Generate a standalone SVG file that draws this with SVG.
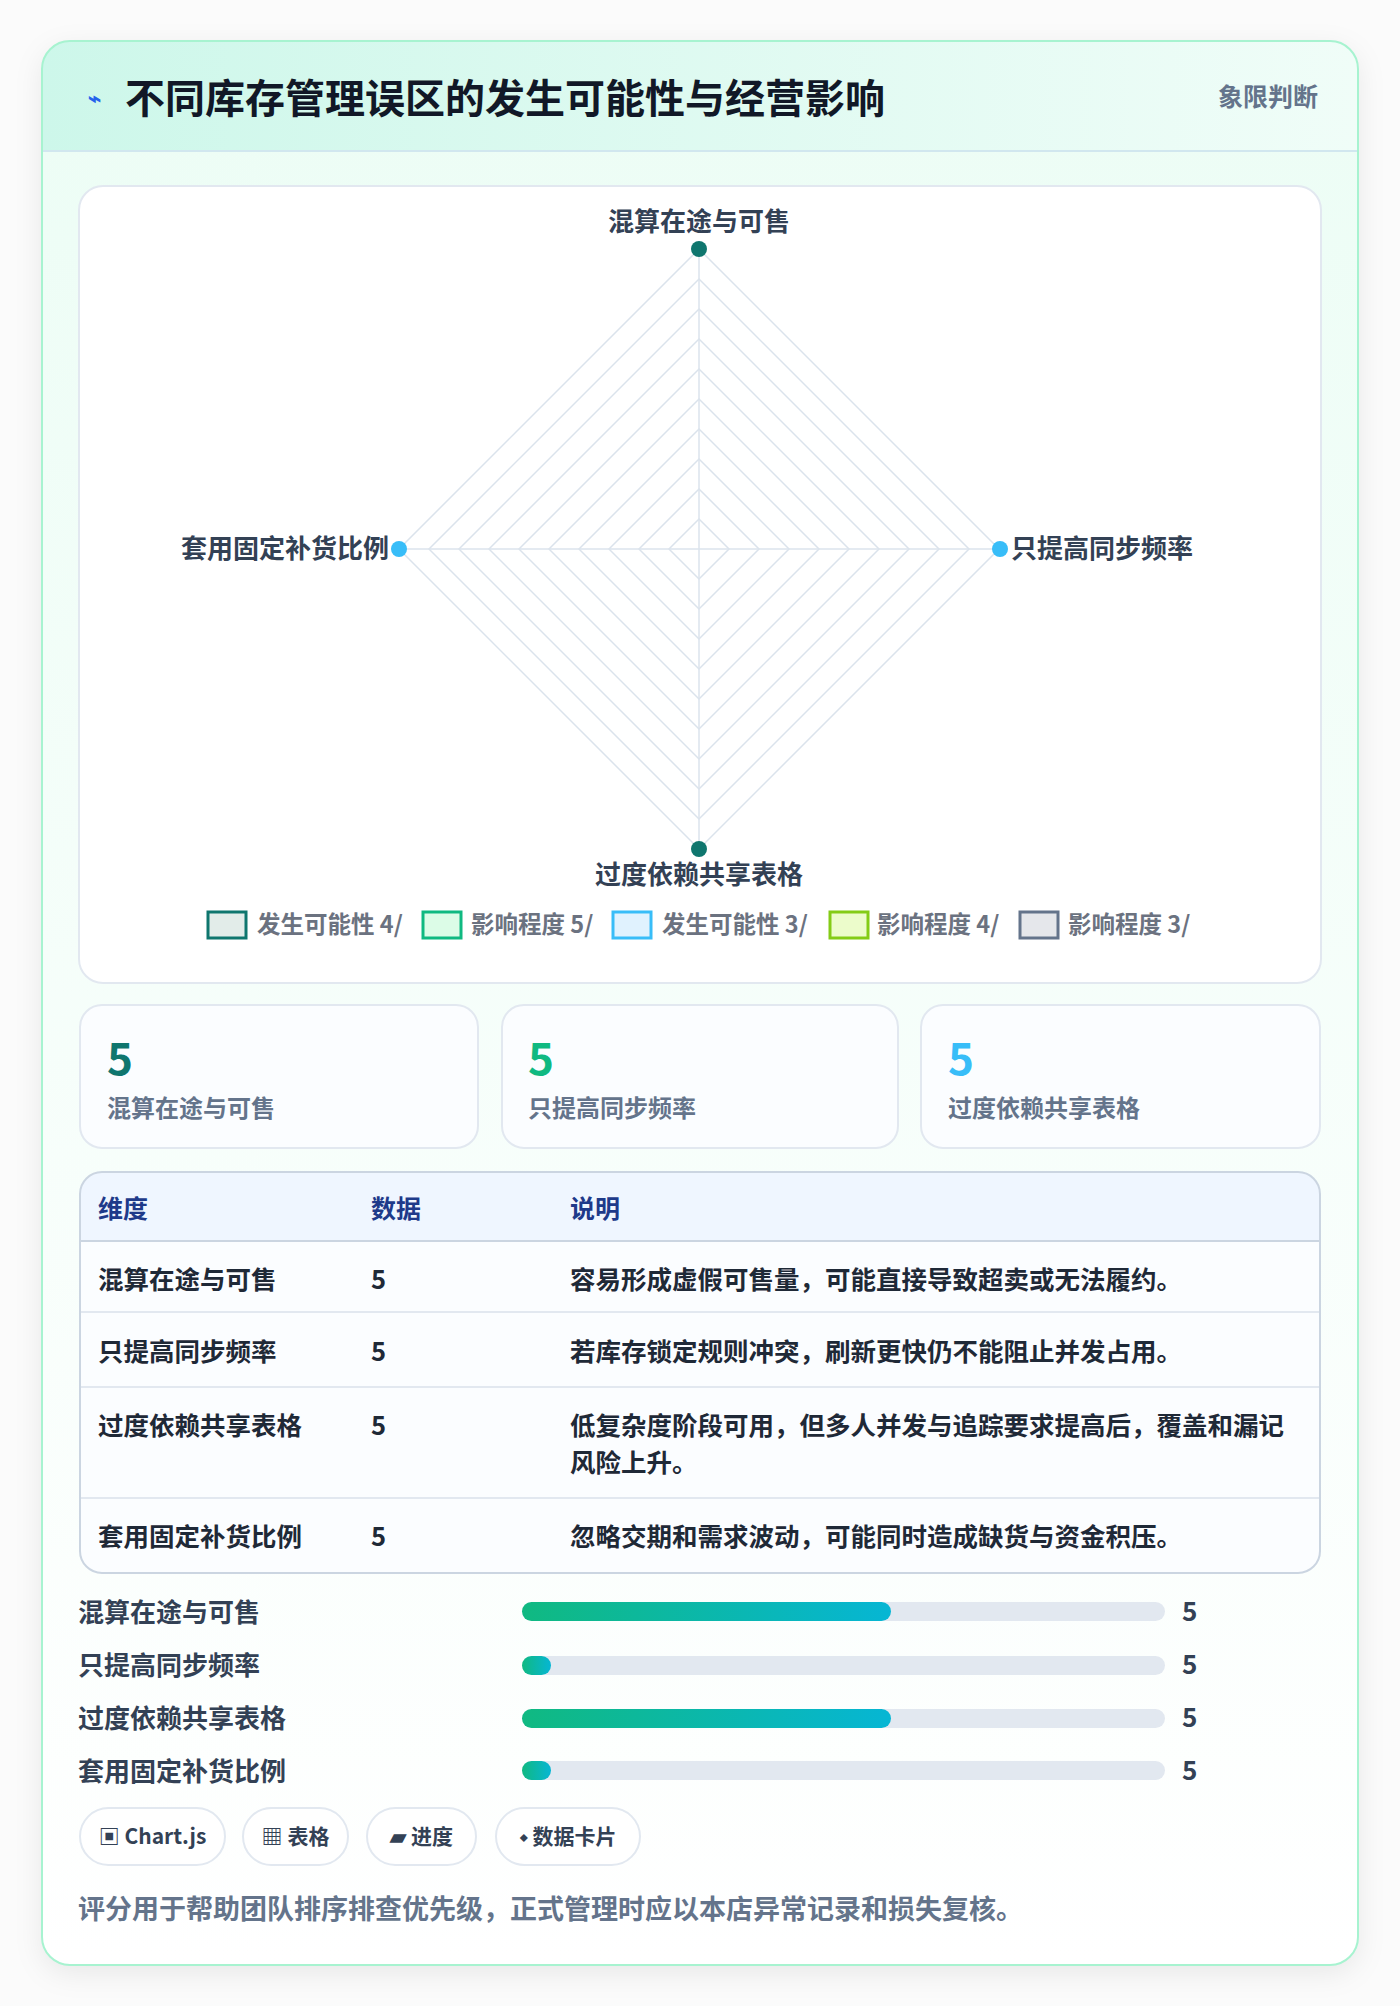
<svg xmlns="http://www.w3.org/2000/svg" width="1400" height="2006" viewBox="0 0 1400 2006">
<defs>
<linearGradient id="hdr" x1="0" y1="0" x2="1" y2="0"><stop offset="0" stop-color="#cdf7ea"/><stop offset="1" stop-color="#f0fdf8"/></linearGradient>
<linearGradient id="body" x1="0" y1="0" x2="0" y2="1"><stop offset="0" stop-color="#ecfdf5"/><stop offset="1" stop-color="#ffffff"/></linearGradient>
<linearGradient id="bar" x1="0" y1="0" x2="1" y2="0"><stop offset="0" stop-color="#10b981"/><stop offset="1" stop-color="#06b6d4"/></linearGradient>
<filter id="sh" x="-10%" y="-10%" width="120%" height="120%"><feDropShadow dx="0" dy="8" stdDeviation="14" flood-color="#0f172a" flood-opacity="0.08"/></filter>
<clipPath id="cc"><rect x="42" y="41" width="1316" height="1924" rx="28"/></clipPath>
<clipPath id="tc"><rect x="80" y="1172" width="1240" height="401" rx="22"/></clipPath>
</defs>
<style>
text{font-family:"Noto Sans CJK SC","Liberation Sans",sans-serif;font-weight:700}
.ax{font-size:26px;fill:#334155}
.lg{font-size:23.5px;fill:#6b7280}
.sl{font-size:24px;fill:#64748b}
.th{font-size:25px;fill:#1e3a8a}
.td{font-size:25.5px;fill:#1f2937}
.bl{font-size:26px;fill:#334155}
.ch{font-size:21px;fill:#334155}
.ring{fill:none;stroke:#dbe3ec;stroke-width:1.5}
</style>
<rect width="1400" height="2006" fill="#fbfbfb"/>
<g id="card">
<rect x="42" y="41" width="1316" height="1924" rx="28" fill="url(#body)" filter="url(#sh)"/>
<rect x="42" y="41" width="1316" height="110" fill="url(#hdr)" clip-path="url(#cc)"/>
<line x1="42" y1="151" x2="1358" y2="151" stroke="#d1e7ef" stroke-width="2"/>
<rect x="42" y="41" width="1316" height="1924" rx="28" fill="none" stroke="#a7f3d0" stroke-width="2"/>
<text x="88" y="106" font-size="22" fill="#2563eb">⌁</text>
<text x="125" y="113" font-size="40" fill="#111827">不同库存管理误区的发生可能性与经营影响</text>
<text x="1318" y="106" font-size="25" fill="#64748b" text-anchor="end">象限判断</text>
</g>
<g id="chart">
<rect x="79" y="186" width="1242" height="797" rx="24" fill="#ffffff" stroke="#e2e8f0" stroke-width="2"/>
<g>
<polygon class="ring" points="699,519 729,549 699,579 669,549"/>
<polygon class="ring" points="699,489 759,549 699,609 639,549"/>
<polygon class="ring" points="699,459 789,549 699,639 609,549"/>
<polygon class="ring" points="699,429 819,549 699,669 579,549"/>
<polygon class="ring" points="699,399 849,549 699,699 549,549"/>
<polygon class="ring" points="699,369 879,549 699,729 519,549"/>
<polygon class="ring" points="699,339 909,549 699,759 489,549"/>
<polygon class="ring" points="699,309 939,549 699,789 459,549"/>
<polygon class="ring" points="699,279 969,549 699,819 429,549"/>
<polygon class="ring" points="699,249 999,549 699,849 399,549"/>
<line x1="699" y1="249" x2="699" y2="849" stroke="#dbe3ec" stroke-width="1.5"/>
<line x1="399" y1="549" x2="999" y2="549" stroke="#dbe3ec" stroke-width="1.5"/>
</g>
<circle cx="699" cy="249" r="8" fill="#0f766e"/>
<circle cx="699" cy="849" r="8" fill="#0f766e"/>
<circle cx="399" cy="549" r="8" fill="#38bdf8"/>
<circle cx="1000" cy="549" r="8" fill="#38bdf8"/>
<text class="ax" x="699" y="231" text-anchor="middle">混算在途与可售</text>
<text class="ax" x="389" y="558" text-anchor="end">套用固定补货比例</text>
<text class="ax" x="1011" y="558">只提高同步频率</text>
<text class="ax" x="699" y="884" text-anchor="middle">过度依赖共享表格</text>
<rect x="208" y="912" width="38" height="26" fill="#e2ece9" stroke="#0f766e" stroke-width="3"/>
<text class="lg" x="257" y="933">发生可能性 4/</text>
<rect x="423" y="912" width="38" height="26" fill="#dcfce7" stroke="#10b981" stroke-width="3"/>
<text class="lg" x="471" y="933">影响程度 5/</text>
<rect x="613" y="912" width="38" height="26" fill="#e0f2fe" stroke="#38bdf8" stroke-width="3"/>
<text class="lg" x="662" y="933">发生可能性 3/</text>
<rect x="830" y="912" width="38" height="26" fill="#ecfccb" stroke="#84cc16" stroke-width="3"/>
<text class="lg" x="877" y="933">影响程度 4/</text>
<rect x="1020" y="912" width="38" height="26" fill="#e5e7eb" stroke="#64748b" stroke-width="3"/>
<text class="lg" x="1068" y="933">影响程度 3/</text>
</g>
<g id="stats">
<rect x="80" y="1005" width="398" height="143" rx="22" fill="#fbfdff" stroke="#e2e8f0" stroke-width="2"/>
<text x="107" y="1075" font-size="44" font-weight="900" fill="#0f766e">5</text>
<text class="sl" x="107" y="1117">混算在途与可售</text>
<rect x="502" y="1005" width="396" height="143" rx="22" fill="#fbfdff" stroke="#e2e8f0" stroke-width="2"/>
<text x="528" y="1075" font-size="44" font-weight="900" fill="#10b981">5</text>
<text class="sl" x="528" y="1117">只提高同步频率</text>
<rect x="921" y="1005" width="399" height="143" rx="22" fill="#fbfdff" stroke="#e2e8f0" stroke-width="2"/>
<text x="948" y="1075" font-size="44" font-weight="900" fill="#38bdf8">5</text>
<text class="sl" x="948" y="1117">过度依赖共享表格</text>
</g>
<g id="table">
<rect x="80" y="1172" width="1240" height="401" rx="22" fill="#fbfdff"/>
<rect x="80" y="1172" width="1240" height="69" fill="#eff6ff" clip-path="url(#tc)"/>
<line x1="80" y1="1241" x2="1320" y2="1241" stroke="#cbd5e1" stroke-width="2"/>
<line x1="80" y1="1312" x2="1320" y2="1312" stroke="#e2e8f0" stroke-width="2"/>
<line x1="80" y1="1387" x2="1320" y2="1387" stroke="#e2e8f0" stroke-width="2"/>
<line x1="80" y1="1498" x2="1320" y2="1498" stroke="#e2e8f0" stroke-width="2"/>
<rect x="80" y="1172" width="1240" height="401" rx="22" fill="none" stroke="#cbd5e1" stroke-width="2"/>
<text class="th" x="98" y="1218">维度</text><text class="th" x="371" y="1218">数据</text><text class="th" x="570" y="1218">说明</text>
<text class="td" x="98" y="1289">混算在途与可售</text><text class="td" x="371" y="1289" font-size="22">5</text><text class="td" x="570" y="1289">容易形成虚假可售量，可能直接导致超卖或无法履约。</text>
<text class="td" x="98" y="1361">只提高同步频率</text><text class="td" x="371" y="1361" font-size="22">5</text><text class="td" x="570" y="1361">若库存锁定规则冲突，刷新更快仍不能阻止并发占用。</text>
<text class="td" x="98" y="1435">过度依赖共享表格</text><text class="td" x="371" y="1435" font-size="22">5</text><text class="td" x="570" y="1435">低复杂度阶段可用，但多人并发与追踪要求提高后，覆盖和漏记</text>
<text class="td" x="570" y="1472">风险上升。</text>
<text class="td" x="98" y="1546">套用固定补货比例</text><text class="td" x="371" y="1546" font-size="22">5</text><text class="td" x="570" y="1546">忽略交期和需求波动，可能同时造成缺货与资金积压。</text>
</g>
<g id="bars">
<text class="bl" x="78" y="1622">混算在途与可售</text>
<rect x="522" y="1602" width="643" height="19" rx="9.5" fill="#e2e8f0"/><rect x="522" y="1602" width="369" height="19" rx="9.5" fill="url(#bar)"/>
<text class="bl" x="1182" y="1621" font-size="23">5</text>
<text class="bl" x="78" y="1675">只提高同步频率</text>
<rect x="522" y="1656" width="643" height="19" rx="9.5" fill="#e2e8f0"/><rect x="522" y="1656" width="29" height="19" rx="9.5" fill="url(#bar)"/>
<text class="bl" x="1182" y="1674" font-size="23">5</text>
<text class="bl" x="78" y="1728">过度依赖共享表格</text>
<rect x="522" y="1709" width="643" height="19" rx="9.5" fill="#e2e8f0"/><rect x="522" y="1709" width="369" height="19" rx="9.5" fill="url(#bar)"/>
<text class="bl" x="1182" y="1727" font-size="23">5</text>
<text class="bl" x="78" y="1781">套用固定补货比例</text>
<rect x="522" y="1761" width="643" height="19" rx="9.5" fill="#e2e8f0"/><rect x="522" y="1761" width="29" height="19" rx="9.5" fill="url(#bar)"/>
<text class="bl" x="1182" y="1780" font-size="23">5</text>
</g>
<g id="chips">
<rect x="80" y="1808" width="145" height="57" rx="28.5" fill="#ffffff" stroke="#e2e8f0" stroke-width="2"/>
<text class="ch" x="152.5" y="1844" text-anchor="middle">▣ Chart.js</text>
<rect x="243" y="1808" width="105" height="57" rx="28.5" fill="#ffffff" stroke="#e2e8f0" stroke-width="2"/>
<text class="ch" x="295.5" y="1844" text-anchor="middle">▦ 表格</text>
<rect x="367" y="1808" width="109" height="57" rx="28.5" fill="#ffffff" stroke="#e2e8f0" stroke-width="2"/>
<text class="ch" x="421.5" y="1844" text-anchor="middle">▰ 进度</text>
<rect x="496" y="1808" width="144" height="57" rx="28.5" fill="#ffffff" stroke="#e2e8f0" stroke-width="2"/>
<text class="ch" x="568" y="1844" text-anchor="middle">⬩ 数据卡片</text>
</g>
<text x="78" y="1919" font-size="27" fill="#64748b">评分用于帮助团队排序排查优先级，正式管理时应以本店异常记录和损失复核。</text>
</svg>
